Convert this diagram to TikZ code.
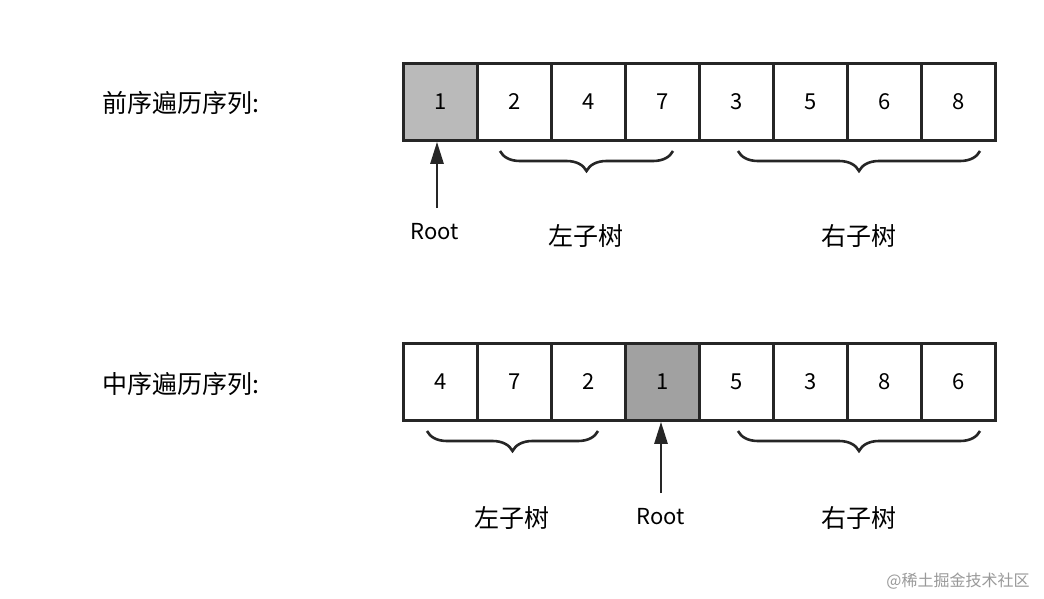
\documentclass[tikz,border=0pt]{standalone}
\usepackage{fontspec}
\setmainfont{Noto Sans CJK SC}
\usetikzlibrary{decorations.pathreplacing,arrows.meta}
\begin{document}
\begin{tikzpicture}[x=1pt,y=-1pt,
  cell/.style={draw=black!85,line width=2.8pt,minimum width=74pt,minimum height=77pt,inner sep=0pt,font=\fontsize{22}{24}\selectfont,anchor=north west},
  lbl/.style={font=\fontsize{25}{28}\selectfont,inner sep=0pt},
  br/.style={decorate,decoration={brace,mirror,amplitude=20pt},line width=2.6pt,draw=black!85},
  arr/.style={-{Triangle[width=13pt,length=22pt]},line width=2.6pt,draw=black!85}]
\useasboundingbox (0,0) rectangle (1044,598);
\fill[white] (0,0) rectangle (1044,598);
\node[lbl,anchor=west] (t1) at (102,103) {前序遍历序列:};
\node[lbl,anchor=west] (t2) at (102,384) {中序遍历序列:};
\foreach \v [count=\i] in {1,2,4,7,3,5,6,8}{
  \node[cell] (a\i) at ({402+(\i-1)*74},62) {\v};}
\foreach \v [count=\i] in {4,7,2,1,5,3,8,6}{
  \node[cell] (b\i) at ({402+(\i-1)*74},342) {\v};}
\node[cell,fill=black!27] at (402,62) {1};
\node[cell,fill=black!37] at (624,342) {1};
\coordinate (l1s) at (500,151); \coordinate (l1e) at (673,151);
\coordinate (r1s) at (738,151); \coordinate (r1e) at (980,151);
\coordinate (l2s) at (427,431); \coordinate (l2e) at (598,431);
\coordinate (r2s) at (738,431); \coordinate (r2e) at (980,431);
\draw[br] (l1s) -- (l1e);
\draw[br] (r1s) -- (r1e);
\draw[br] (l2s) -- (l2e);
\draw[br] (r2s) -- (r2e);
\node[lbl,font=\fontsize{22}{24}\selectfont] (root1) at (435,232) {Root};
\node[lbl,font=\fontsize{22}{24}\selectfont] (root2) at (661,517) {Root};
\draw[arr] (437,208) -- (a1.south -| 437,0);
\draw[arr] (661,493) -- (b4.south -| 661,0);
\node[lbl] (ls1) at (586,236) {左子树};
\node[lbl] (rs1) at (859,236) {右子树};
\node[lbl] (ls2) at (512,518) {左子树};
\node[lbl] (rs2) at (859,518) {右子树};
\node[font=\fontsize{16}{18}\selectfont,text=black!40,inner sep=0pt] (wm) at (958,581) {@稀土掘金技术社区};
\end{tikzpicture}
\end{document}
